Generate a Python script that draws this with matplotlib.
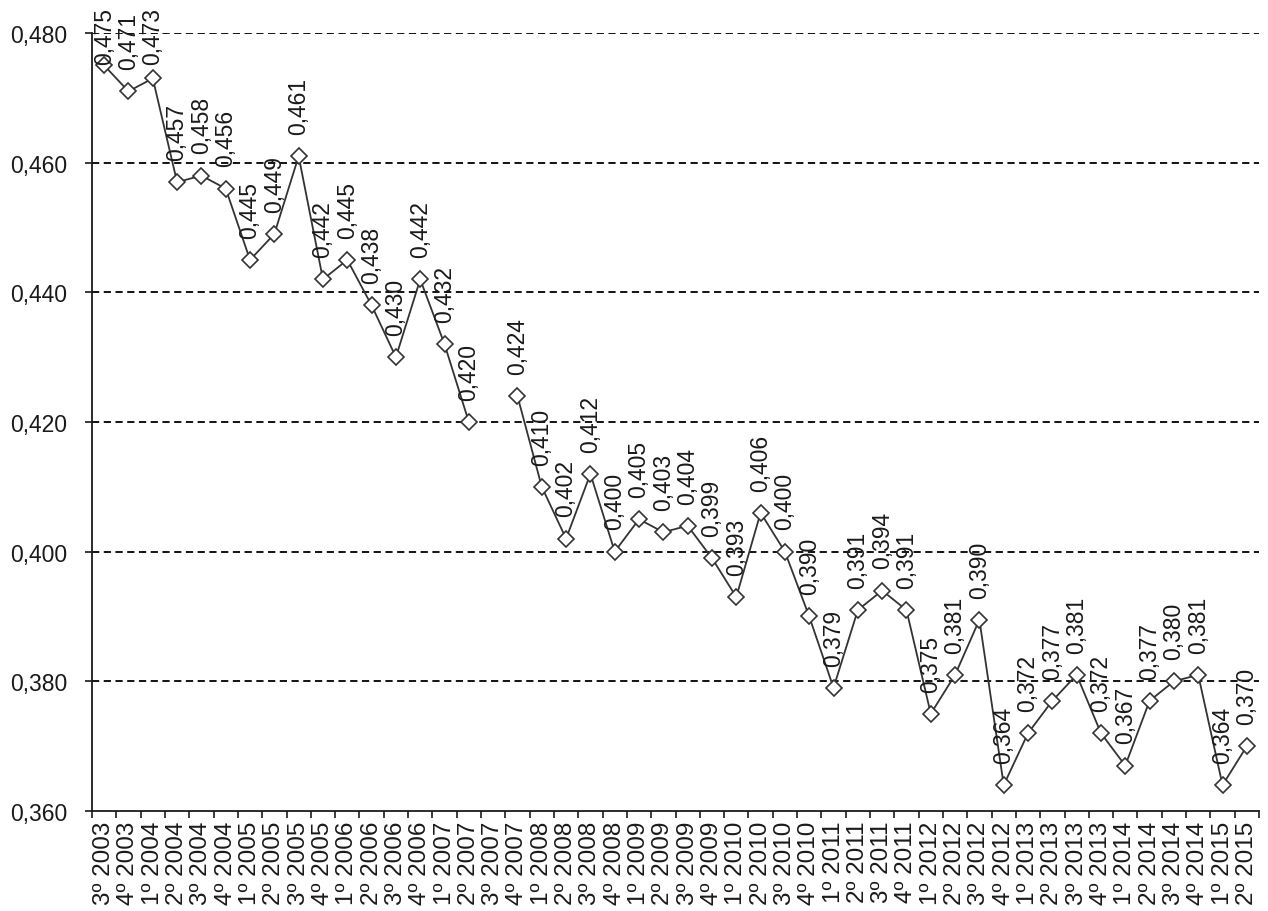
import numpy as np
import matplotlib
matplotlib.use("Agg")
import matplotlib.pyplot as plt
from matplotlib.ticker import FixedLocator, FuncFormatter

plt.rcParams['font.family'] = ['Liberation Sans', 'DejaVu Sans']

quarters = ["3º", "4º"] + ["1º", "2º", "3º", "4º"] * 11 + ["1º", "2º"]
years = [2003] * 2 + [y for y in range(2004, 2015) for _ in range(4)] + [2015] * 2
categories = [f"{q} {y}" for q, y in zip(quarters, years)]

values = [0.475, 0.471, 0.473, 0.457, 0.458, 0.456, 0.445, 0.449, 0.461, 0.442,
          0.445, 0.438, 0.430, 0.442, 0.432, 0.420, np.nan, 0.424, 0.410, 0.402,
          0.412, 0.400, 0.405, 0.403, 0.404, 0.399, 0.393, 0.406, 0.400, 0.390,
          0.379, 0.391, 0.394, 0.391, 0.375, 0.381, 0.3895, 0.364, 0.372, 0.377,
          0.381, 0.372, 0.367, 0.377, 0.380, 0.381, 0.364, 0.370]
labels = ["0,475", "0,471", "0,473", "0,457", "0,458", "0,456", "0,445", "0,449", "0,461", "0,442",
          "0,445", "0,438", "0,430", "0,442", "0,432", "0,420", "", "0,424", "0,410", "0,402",
          "0,412", "0,400", "0,405", "0,403", "0,404", "0,399", "0,393", "0,406", "0,400", "0,390",
          "0,379", "0,391", "0,394", "0,391", "0,375", "0,381", "0,390", "0,364", "0,372", "0,377",
          "0,381", "0,372", "0,367", "0,377", "0,380", "0,381", "0,364", "0,370"]
yticks = [0.360, 0.380, 0.400, 0.420, 0.440, 0.460, 0.480]

W, H, DPI = 1268, 912, 100
fig = plt.figure(figsize=(W / DPI, H / DPI), dpi=DPI)
ax = fig.add_axes([92 / W, 1 - 812 / H, (1259 - 92) / W, (812 - 34) / H])

x = np.arange(len(categories))
line_c = '#333333'
ax.plot(x, values, color=line_c, lw=1.3, marker='D', markersize=8.6,
        markerfacecolor='white', markeredgecolor=line_c, markeredgewidth=1.2,
        zorder=3, clip_on=False)

ax.set_xlim(-0.5, len(categories) - 0.5)
ax.set_ylim(0.360, 0.480)

for s in ['top', 'right']:
    ax.spines[s].set_visible(False)
for s in ['left', 'bottom']:
    ax.spines[s].set_color('#1a1a1a')
    ax.spines[s].set_linewidth(1.3)

ax.yaxis.set_major_locator(FixedLocator(yticks))
ax.yaxis.set_major_formatter(FuncFormatter(lambda v, p: f"{v:.3f}".replace('.', ',')))
ax.tick_params(axis='y', length=5, width=1.2, pad=13, labelsize=16.5, colors='#1a1a1a')

ax.set_xticks(x)
ax.set_xticklabels(categories, rotation=90, fontsize=17.5, color='#1a1a1a')
ax.tick_params(axis='x', which='major', length=0, pad=7)
ax.set_xticks(np.arange(-0.5, len(categories)), minor=True)
ax.tick_params(axis='x', which='minor', length=5, width=1.2, color='#1a1a1a')

for yv in yticks[1:]:
    ax.axhline(yv, color='black', lw=1.3, ls=(0, (4, 2.5)), zorder=1)

OFF = 16
anns = []
for xi, v, lab in zip(x, values, labels):
    if np.isnan(v) or not lab:
        continue
    a = ax.annotate(lab, (xi, v), xytext=(0, OFF), textcoords='offset points',
                    rotation=90, ha='center', va='bottom', fontsize=16.5,
                    color='#1a1a1a', annotation_clip=False, zorder=4)
    anns.append(a)

fig.canvas.draw()
r = fig.canvas.get_renderer()
for a in anns:
    bb = a.get_window_extent(r)
    lim = H - 8
    if bb.y1 > lim:
        shift_pt = (bb.y1 - lim) * 72 / DPI
        a.xyann = (0, OFF - shift_pt)

fig.savefig('out.png', dpi=DPI, facecolor='white')
